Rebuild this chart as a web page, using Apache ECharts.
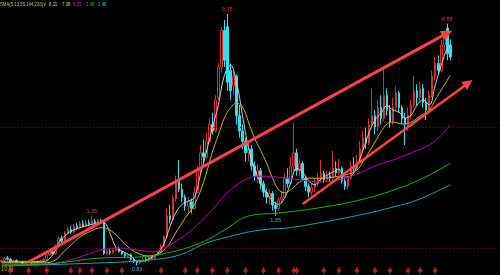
<!DOCTYPE html>
<html><head><meta charset="utf-8">
<script src="https://cdn.jsdelivr.net/npm/echarts@6/dist/echarts.min.js"></script>
<style>html,body{margin:0;padding:0;background:#000}#c{width:500px;height:275px}</style>
</head><body><div id="c"></div>
<script>
// ---- data ----
const openP = [.86,.87,.89,.88,.86,.87,.86,.86,.85,.86,.865,.85,.86,.855,.87,.88,.92,.95,.93,1.00,
1.08,1.05,1.14,1.18,1.15,1.22,1.20,1.25,1.22,1.26,1.24,1.28,1.26,1.29,1.27,.93,.95,.94,.96,.98,
.95,.93,.91,.92,.88,.86,.85,.87,.88,.87,.90,.89,.92,.94,1.00,1.10,1.35,1.30,1.60,1.90,
1.75,1.62,1.48,1.55,1.45,1.70,2.10,2.50,2.40,2.80,3.30,3.10,4.30,5.80,8.30,8.60,5.60,4.80,5.30,3.60,
3.10,2.80,2.50,2.60,2.20,2.00,2.10,1.85,1.70,1.62,1.68,1.50,1.45,1.58,1.62,1.95,1.85,2.20,2.50,2.10,
2.25,1.95,1.80,1.70,1.78,1.85,1.95,2.05,1.92,2.00,1.95,2.15,2.05,2.15,1.90,1.80,1.95,2.20,2.15,2.30,
2.60,2.90,2.75,3.30,3.60,3.20,3.90,3.50,4.40,3.80,3.40,3.90,4.50,3.90,3.50,3.30,3.60,4.00,4.60,4.30,
4.70,4.10,3.80,4.40,5.30,6.00,5.60,7.20,8.50,7.20];
const closeP = [.87,.89,.88,.86,.87,.86,.86,.85,.86,.865,.85,.86,.855,.87,.88,.92,.95,.93,1.00,1.08,
1.05,1.14,1.18,1.15,1.22,1.20,1.25,1.22,1.26,1.24,1.28,1.26,1.29,1.27,.93,.95,.94,.96,.98,.95,
.93,.91,.92,.88,.86,.85,.87,.88,.87,.90,.89,.92,.94,1.00,1.10,1.35,1.30,1.60,1.90,1.75,
1.62,1.48,1.55,1.45,1.70,2.10,2.50,2.40,2.80,3.30,3.10,4.20,5.80,8.30,6.20,5.00,4.60,5.30,3.60,3.10,
2.80,2.50,2.60,2.20,2.00,2.10,1.85,1.70,1.62,1.68,1.50,1.45,1.58,1.62,1.95,1.85,2.20,2.50,2.10,2.25,
1.95,1.80,1.70,1.78,1.85,1.95,2.05,1.92,2.00,1.95,2.15,2.05,2.15,1.90,1.80,1.95,2.20,2.15,2.30,2.60,
2.90,2.75,3.30,3.60,3.20,3.90,3.50,4.40,3.80,3.40,3.90,4.50,3.90,3.50,3.30,3.60,4.00,4.60,4.30,4.70,
4.10,3.80,4.40,5.30,6.00,5.60,7.20,7.80,6.60,6.40];
const lowP = [.85,.86,.87,.85,.85,.85,.85,.84,.84,.85,.84,.84,.85,.85,.86,.87,.91,.92,.92,.99,
1.03,1.04,1.12,1.13,1.14,1.17,1.19,1.20,1.21,1.22,1.23,1.24,1.25,1.25,.92,.92,.92,.93,.95,.94,
.92,.89,.89,.87,.85,.83,.84,.86,.86,.86,.88,.88,.91,.93,.99,1.08,1.25,1.28,1.55,1.70,
1.55,1.42,1.40,1.38,1.43,1.68,2.05,2.25,2.35,2.75,3.00,3.05,4.20,5.50,5.80,4.60,4.20,4.40,3.30,2.90,
2.60,2.30,2.30,2.10,1.90,1.85,1.75,1.62,1.52,1.50,1.42,1.35,1.42,1.52,1.60,1.78,1.82,2.10,2.00,2.00,
1.90,1.72,1.62,1.65,1.70,1.80,1.88,1.86,1.88,1.88,1.90,1.98,2.00,1.85,1.74,1.75,1.92,2.08,2.10,2.25,
2.50,2.60,2.70,3.20,3.00,3.10,3.30,3.40,3.60,3.20,3.30,3.80,3.70,3.30,2.70,3.10,3.50,3.90,4.00,4.10,
3.90,3.45,3.70,4.30,5.10,5.40,5.50,6.80,6.20,6.20];
const highP = [.88,.90,.91,.89,.88,.88,.87,.87,.87,.87,.87,.87,.87,.88,.89,.93,.97,.98,1.02,1.10,
1.11,1.16,1.21,1.22,1.25,1.26,1.28,1.29,1.29,1.30,1.35,1.31,1.31,1.31,1.28,.97,.97,.98,1.00,1.00,
.96,.94,.94,.93,.89,.87,.88,.90,.90,.91,.92,.93,.96,1.02,1.12,1.45,1.50,1.65,2.00,2.33,
1.85,1.66,1.62,1.60,1.80,2.20,2.70,2.85,3.00,3.50,3.70,4.40,6.00,8.60,9.20,9.75,6.00,5.60,5.40,4.00,
3.30,2.90,2.80,2.70,2.30,2.25,2.15,1.90,1.76,1.75,1.72,1.55,1.62,1.72,2.05,2.15,2.40,3.35,2.60,2.35,
2.30,2.00,1.85,1.85,1.95,2.05,2.33,2.10,2.10,2.08,2.55,2.30,2.35,2.18,1.95,2.00,2.30,2.40,2.45,2.80,
3.10,3.20,3.50,4.70,3.80,4.20,4.40,5.70,4.70,4.00,4.30,4.80,4.60,4.00,3.70,3.90,4.20,5.30,4.90,5.00,
4.90,4.30,4.60,5.60,6.40,6.50,7.60,8.20,8.88,7.60];

// moving averages: [candle index, price]
const ma5 = [[0,.858],[14,.86],[16,.89],[18,.965],[19,1.04],[21,1.106],[23,1.16],[26,1.20],[29,1.23],[33,1.26],[34,1.26],
[36,1.14],[38,.99],[40,.955],[43,.91],[45,.866],[47,.866],[50,.90],[52,.937],[54,1.03],[56,1.22],[58,1.40],[60,1.51],
[62,1.56],[64,1.61],[66,2.01],[68,2.52],[70,3.19],[72,4.0],[74,5.35],[76,5.9],[78,5.0],[80,3.62],[82,2.62],[84,2.15],
[86,1.86],[88,1.69],[90,1.56],[92,1.51],[94,1.61],[96,1.86],[98,2.15],[100,2.07],[102,1.90],[104,1.83],[106,1.93],
[108,2.01],[110,2.07],[112,2.13],[114,1.97],[116,1.99],[118,2.2],[120,2.57],[122,3.04],[124,3.45],[126,3.69],
[128,3.96],[130,3.8],[132,3.73],[134,3.52],[136,3.62],[138,4.0],[140,4.2],[142,4.0],[144,4.86],[146,5.9],[148,7.0],[149,7.2]];
const ma13 = [[0,.85],[14,.85],[18,.875],[20,.93],[23,1.01],[26,1.095],[29,1.15],[33,1.20],[35,1.19],[38,1.12],[41,1.02],
[45,.937],[49,.91],[52,.928],[55,.995],[58,1.15],[61,1.32],[64,1.5],[67,1.86],[70,2.52],[72,2.98],[74,3.52],[76,3.88],
[78,4.07],[80,3.92],[82,3.38],[84,2.89],[86,2.57],[88,2.26],[90,1.95],[92,1.74],[94,1.69],[96,1.74],[99,1.88],[102,1.95],
[106,1.95],[110,1.97],[114,2.01],[118,2.11],[120,2.29],[122,2.52],[124,2.78],[126,3.07],[128,3.32],[130,3.38],[133,3.32],
[136,3.38],[139,3.59],[142,3.8],[144,4.2],[146,4.63],[149,5.35]];
const ma55 = [[0,.84],[14,.84],[20,.858],[26,.90],[33,.965],[38,.984],[45,.965],[50,.946],[53,.965],[57,1.033],[61,1.117],
[66,1.27],[70,1.43],[74,1.64],[78,1.82],[82,1.95],[86,1.99],[92,1.97],[99,1.92],[106,1.88],[112,1.92],[118,2.03],
[124,2.20],[130,2.33],[136,2.5],[142,2.7],[146,2.97],[149,3.3]];
const ma144 = [[0,.833],[15,.841],[33,.892],[45,.90],[55,.937],[66,1.033],[74,1.173],[82,1.346],[92,1.386],[105,1.456],
[119,1.575],[132,1.77],[142,2.01],[149,2.26]];
const ma233 = [[0,.825],[33,.85],[49,.875],[59,.918],[68,1.033],[75,1.095],[82,1.151],[89,1.185],[95,1.197],[105,1.256],
[119,1.36],[130,1.47],[138,1.575],[149,1.83]];

// signal markers under the candles (candle indices)
const signalIdx = [3,9,15,23,26,30,35,40,53,61,65,70,75,81,87,92,97,98,107,112,118,124,129,135,139,144];
const signalLevel = 0.789;
// price extremes marked on the chart
const extremes = [
  {i:75, p:9.75, text:'9.75', pos:'top', color:'#e03a3a'},
  {i:148, p:8.88, text:'8.88', pos:'top', color:'#e03a3a'},
  {i:30, p:1.35, text:'1.35', pos:'top', color:'#c84040'},
  {i:45, p:0.83, text:'0.83', pos:'bottom', color:'#60a8e0'},
  {i:91, p:1.35, text:'1.35', pos:'bottom', color:'#40b8c0'}
];
// trend arrows: [start index, start price, end index, end price]
const arrows = [[9,0.858,148,8.09],[100,1.514,155,4.96]];
const gridLevels = [3.22, 0.984];
// legend
const legendTitle = 'SMA(5,13,55,144,233)∨';
const legendValues = ['8.11','7.38','5.25','2.48','2.48'];
const slotCount = 166;
const weeks = Array.from({length: slotCount}, (_, i) => 'W' + (i + 1));

const colors = {ma5:'#d0d0d0', ma13:'#c0c000', ma55:'#c000c0', ma144:'#10b810', ma233:'#10a8b0'};
const candleData = openP.map((o, i) => [o, closeP[i], lowP[i], highP[i]]);

const maSeries = [['MA5',ma5,colors.ma5],['MA13',ma13,colors.ma13],['MA55',ma55,colors.ma55],
  ['MA144',ma144,colors.ma144],['MA233',ma233,colors.ma233]].map(([n,d,c]) => ({
  type:'line', name:n, data:d, smooth:0.4, symbol:'none', silent:true,
  lineStyle:{color:c, width:1}, z:3
}));

const legendX = [49, 62, 73, 86, 98];
const legendColors = [colors.ma5, '#d0d000', '#e000e0', '#10c010', '#10c0d0'];
const graphics = [{type:'text', x:0, y:1, scaleX:0.78, style:{text:legendTitle, fill:'#c8c040', fontSize:5.5, fontFamily:'Liberation Sans'}}]
  .concat(legendValues.map((v,k)=>({type:'text', x:legendX[k], y:1, scaleX:0.8, style:{text:v, fill:legendColors[k], fontSize:5.5, fontFamily:'Liberation Sans'}})))
  .concat([{type:'text', x:1, y:266, style:{text:'10月', fill:'#c8a800', fontSize:6, fontFamily:'Noto Sans CJK SC'}}]);

const chart = echarts.init(document.getElementById('c'));
chart.setOption({
  backgroundColor:'#000',
  animation:false,
  grid:{left:0,right:0,top:0,bottom:0},
  xAxis:{type:'category', data:weeks, boundaryGap:true, show:false},
  yAxis:{type:'log', min:0.755, max:11.19, show:false, splitLine:{show:false}},
  graphic: graphics,
  series:[
    {type:'candlestick', name:'K', data:candleData, barWidth:2, z:2,
     itemStyle:{color:'#000', color0:'#30e0f0', borderColor:'#d83030', borderColor0:'#30e0f0', borderWidth:1},
     markLine:{silent:true, symbol:['none','none'], label:{show:false}, animation:false,
       data: gridLevels.map(v=>({yAxis:v, lineStyle:{type:[1,2], color:'#701010', width:1}}))
         .concat(arrows.map((a,k)=>[
           {coord:[a[0],a[1]], symbol:'none', lineStyle:{color:'#ff4444', width:k===0?3:2.5, type:'solid'}},
           {coord:[a[2],a[3]], symbol:'triangle', symbolSize:k===0?11:10}
         ]))
     },
     markPoint:{silent:true, animation:false, symbol:'rect', symbolSize:1,
       itemStyle:{color:'rgba(0,0,0,0)'},
       data: extremes.map(e=>({coord:[e.i,e.p], value:e.text,
         label:{show:true, formatter:e.text, position:e.pos, distance:1, color:e.color, fontSize:5.5, fontFamily:'Liberation Sans'}}))
     }
    },
    ...maSeries,
    {type:'scatter', name:'signal', data:signalIdx.map(i=>[i, signalLevel]), silent:true, z:4,
     symbol:'path://M1,0H2V2H3V4H2V6H1V4H0V2H1Z', symbolSize:[4,7], itemStyle:{color:'#ff2020'}}
  ]
});
</script></body></html>
